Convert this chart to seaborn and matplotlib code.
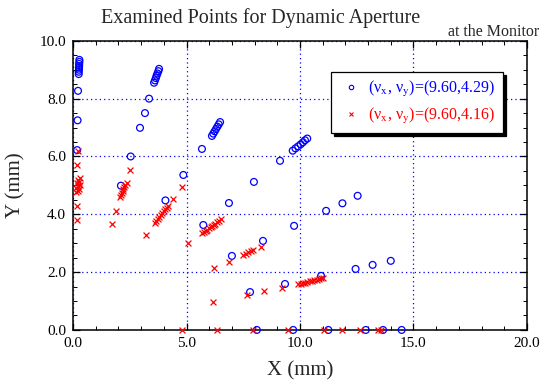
import numpy as np
import pandas as pd
import matplotlib
matplotlib.use("Agg")
import matplotlib.pyplot as plt
import seaborn as sns
from matplotlib.lines import Line2D
from matplotlib.ticker import MultipleLocator, FormatStrFormatter

sns.set_theme(style="ticks")
plt.rcParams["font.family"] = ["Liberation Serif", "DejaVu Serif"]
plt.rcParams["mathtext.fontset"] = "stix"

# ---------------------------------------------------------------------------
# data
# ---------------------------------------------------------------------------
# tune (9.60, 4.29) -- blue open circles
x_429 = [0.18, 0.20, 0.22, 0.25, 0.25, 0.26, 0.26, 0.27, 0.27, 0.28, 0.28,
         2.11, 2.54, 2.95, 3.17, 3.35,
         3.57, 3.61, 3.65, 3.68, 3.72, 3.76, 3.79,
         4.07, 4.86, 5.74, 5.68,
         6.12, 6.18, 6.24, 6.30, 6.36, 6.42, 6.48,
         6.87, 7.00, 7.80, 7.97, 8.37, 9.12, 9.34, 9.74, 10.93,
         11.15, 11.87, 12.54, 12.45, 13.20, 14.00,
         9.68, 9.80, 9.92, 10.03, 10.13, 10.22, 10.32,
         8.10, 9.70, 11.25, 12.90, 13.66, 14.48]
y_429 = [6.22, 7.25, 8.27, 8.85, 8.93, 9.00, 9.07, 9.13, 9.20, 9.27, 9.34,
         4.99, 6.00, 6.99, 7.50, 8.00,
         8.55, 8.63, 8.71, 8.79, 8.87, 8.95, 9.03,
         4.48, 5.36, 3.63, 6.26,
         6.71, 6.79, 6.87, 6.95, 7.03, 7.11, 7.19,
         4.39, 2.56, 1.31, 5.12, 3.08, 5.85, 1.59, 3.60, 1.87,
         4.12, 4.38, 4.64, 2.11, 2.25, 2.39,
         6.20, 6.28, 6.35, 6.42, 6.49, 6.56, 6.62,
         0.0, 0.0, 0.0, 0.0, 0.0, 0.0]

# tune (9.60, 4.16) -- red crosses
x_416 = [0.22, 0.19,
         0.12, 0.20, 0.28, 0.14, 0.24, 0.30, 0.16, 0.26, 0.20, 0.30,
         0.19, 0.16, 1.70, 1.89,
         2.07, 2.11, 2.15, 2.18, 2.22, 2.26, 2.30, 2.36,
         2.51, 3.22,
         3.60, 3.67, 3.73, 3.80, 3.86, 3.93, 3.99, 4.06, 4.13, 4.20,
         4.39, 4.79, 5.08,
         5.70, 5.78, 5.85, 5.92, 5.99, 6.06, 6.13, 6.20, 6.27, 6.34, 6.42, 6.50,
         6.21, 6.15, 6.87,
         7.50, 7.62, 7.73, 7.84, 7.94,
         8.27, 7.65, 8.43, 9.19,
         9.93, 10.03, 10.13, 10.23, 10.33, 10.43, 10.53, 10.63, 10.73, 10.83,
         10.93, 11.03,
         4.79, 6.36, 7.91, 9.48, 11.07, 11.87, 12.64, 13.45, 13.58]
y_416 = [6.20, 5.71,
         4.78, 4.82, 4.87, 4.92, 4.97, 5.02, 5.07, 5.12, 5.17, 5.24,
         4.29, 3.81, 3.67, 4.13,
         4.61, 4.67, 4.74, 4.80, 4.87, 4.93, 5.00, 5.08,
         5.54, 3.29,
         3.71, 3.78, 3.84, 3.91, 3.97, 4.04, 4.10, 4.17, 4.23, 4.29,
         4.53, 4.96, 3.02,
         3.35, 3.39, 3.43, 3.47, 3.51, 3.55, 3.60, 3.64, 3.68, 3.72, 3.77, 3.82,
         2.13, 0.95, 2.35,
         2.60, 2.64, 2.68, 2.72, 2.77,
         2.86, 1.21, 1.33, 1.46,
         1.58, 1.60, 1.62, 1.64, 1.66, 1.68, 1.70, 1.72, 1.74, 1.76,
         1.78, 1.80,
         0.0, 0.0, 0.0, 0.0, 0.0, 0.0, 0.0, 0.0, 0.0]

label_429 = r"(ν$_\mathrm{x}$, ν$_\mathrm{y}$)=(9.60,4.29)"
label_416 = r"(ν$_\mathrm{x}$, ν$_\mathrm{y}$)=(9.60,4.16)"

df_a = pd.DataFrame({"x": x_429, "y": y_429})
df_b = pd.DataFrame({"x": x_416, "y": y_416})

# ---------------------------------------------------------------------------
# plot
# ---------------------------------------------------------------------------
fig = plt.figure(figsize=(5.41, 3.85), dpi=100)
ax = fig.add_axes([0.135, 0.143, 0.839, 0.751])

sns.scatterplot(data=df_a, x="x", y="y", ax=ax, marker="o", s=24,
                facecolors="none", edgecolor="blue", linewidth=0.9,
                zorder=3, clip_on=False)
sns.scatterplot(data=df_b, x="x", y="y", ax=ax, marker="x", s=18,
                color="red", linewidth=0.9, zorder=3, clip_on=False)

ax.set_xlim(0, 20)
ax.set_ylim(0, 10)
ax.xaxis.set_major_locator(MultipleLocator(5))
ax.xaxis.set_minor_locator(MultipleLocator(1))
ax.yaxis.set_major_locator(MultipleLocator(2))
ax.yaxis.set_minor_locator(MultipleLocator(0.5))
ax.xaxis.set_major_formatter(FormatStrFormatter("%.1f"))
ax.yaxis.set_major_formatter(FormatStrFormatter("%.1f"))
ax.tick_params(which="both", direction="in", top=True, right=True,
               colors="black", labelsize=11)
ax.tick_params(which="major", length=5, width=0.9, pad=5)
ax.tick_params(which="minor", length=3, width=0.7)

ax.grid(True, which="major", color="blue", linestyle=(0, (1, 2.5)),
        linewidth=0.9)
for sp in ax.spines.values():
    sp.set_color("black")
    sp.set_linewidth(1.1)

ax.set_xlabel("X (mm)", fontsize=15)
ax.set_ylabel("Y (mm)", fontsize=15)
ax.xaxis.set_label_coords(0.5, -0.108)
ax.yaxis.set_label_coords(-0.105, 0.5)
fig.text(0.482, 0.953, "Examined Points for Dynamic Aperture",
         ha="center", va="center", fontsize=14.5)
fig.text(0.996, 0.918, "at the Monitor", ha="right", va="center",
         fontsize=11.5)

handles = [Line2D([], [], marker="o", linestyle="", markersize=3.2,
                  markerfacecolor="none", markeredgecolor="blue",
                  markeredgewidth=0.8),
           Line2D([], [], marker="x", linestyle="", markersize=3.2,
                  color="red", markeredgewidth=0.8)]
leg = ax.legend(handles, [label_429, label_416], loc="upper right",
                bbox_to_anchor=(0.947, 0.893), borderaxespad=0,
                fontsize=11.5, frameon=True, fancybox=False,
                shadow={"color": "black", "alpha": 1},
                edgecolor="black", framealpha=1, borderpad=0.45,
                handlelength=1.6, handletextpad=0.3, labelspacing=0.45)
leg.get_frame().set_linewidth(0.9)
for txt, c in zip(leg.get_texts(), ["blue", "red"]):
    txt.set_color(c)

fig.savefig("out.png", dpi=100)
